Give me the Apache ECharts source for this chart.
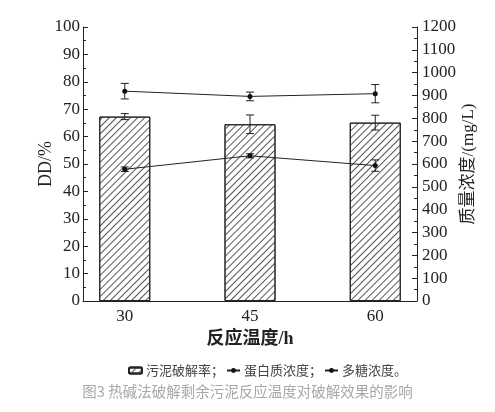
<!DOCTYPE html>
<html>
<head>
<meta charset="utf-8">
<script src="https://cdn.jsdelivr.net/npm/echarts@6/dist/echarts.min.js"></script>
<style>
html, body { margin: 0; padding: 0; background: #fff; }
#main { width: 495px; height: 412px; }
</style>
</head>
<body>
<div id="main"></div>
<script>
// 反应温度 (h)
var temps = [30, 45, 60];
// 污泥破解率 DD/%
var ddRate = [67.3, 64.5, 65.1];
var ddErr = [1.1, 3.4, 2.7];
// 蛋白质浓度 mg/L
var protein = [919, 896, 908];
var proteinErr = [34, 19, 40];
// 多糖浓度 mg/L
var sugar = [577, 636, 593];
var sugarErr = [10, 9, 25];

var leftTicks = { min: 0, max: 100, interval: 10 };
var rightTicks = { min: 0, max: 1200, interval: 100 };

var serif = "'Liberation Serif', 'Noto Sans CJK SC', serif";
var cjk = "'Noto Sans CJK SC', sans-serif";

function pairs(xs, ys) {
    return xs.map(function (x, i) { return [x, ys[i]]; });
}
function errData(xs, ys, es) {
    return xs.map(function (x, i) { return [x, ys[i] - es[i], ys[i] + es[i]]; });
}
function renderErr(params, api) {
    var lo = api.coord([api.value(0), api.value(1)]);
    var hi = api.coord([api.value(0), api.value(2)]);
    var w = 4;
    var st = { stroke: '#222', lineWidth: 1 };
    return {
        type: 'group',
        children: [
            { type: 'line', shape: { x1: lo[0], y1: lo[1], x2: hi[0], y2: hi[1] }, style: st },
            { type: 'line', shape: { x1: lo[0] - w, y1: lo[1], x2: lo[0] + w, y2: lo[1] }, style: st },
            { type: 'line', shape: { x1: hi[0] - w, y1: hi[1], x2: hi[0] + w, y2: hi[1] }, style: st }
        ]
    };
}

var chart = echarts.init(document.getElementById('main'));

chart.setOption({
    animation: false,
    grid: { left: 83, right: 78, top: 27, bottom: 111 },
    legend: {
        top: 359,
        left: 123,
        itemWidth: 13,
        itemHeight: 6,
        itemGap: 2,
        data: ['污泥破解率', '蛋白质浓度', '多糖浓度'],
        formatter: function (name) {
            return name + (name === '多糖浓度' ? '。' : '；');
        },
        textStyle: { fontFamily: cjk, fontSize: 13, color: '#444', padding: [0, 0, 0, -1] }
    },
    graphic: [{
        type: 'text',
        left: 'center',
        top: 384,
        style: {
            text: '图3 热碱法破解剩余污泥反应温度对破解效果的影响',
            fontFamily: cjk,
            fontSize: 14.5,
            fill: '#a8a8a8'
        }
    }],
    xAxis: {
        type: 'value',
        min: 25,
        max: 65,
        interval: 5,
        name: '反应温度/h',
        nameLocation: 'middle',
        nameGap: 26,
        nameTextStyle: { fontFamily: serif, fontSize: 18, fontWeight: 'bold', color: '#222' },
        axisLine: { lineStyle: { color: '#222', width: 1 } },
        axisTick: { show: false },
        splitLine: { show: false },
        axisLabel: {
            margin: 7,
            fontFamily: serif,
            fontSize: 17,
            color: '#222',
            formatter: function (v) { return temps.indexOf(v) >= 0 ? String(v) : ''; }
        }
    },
    yAxis: [
        {
            type: 'value',
            min: leftTicks.min,
            max: leftTicks.max,
            interval: leftTicks.interval,
            name: 'DD/%',
            nameLocation: 'middle',
            nameGap: 28,
            nameMoveOverlap: false,
            nameTextStyle: { fontFamily: serif, fontSize: 18, color: '#222' },
            axisLine: { show: true, lineStyle: { color: '#222', width: 1 } },
            axisTick: { show: true, inside: true, length: 5, lineStyle: { color: '#222' } },
            minorTick: { show: true, splitNumber: 2, length: 3, lineStyle: { color: '#222' } },
            splitLine: { show: false },
            axisLabel: { margin: 3, fontFamily: serif, fontSize: 17, color: '#222' }
        },
        {
            type: 'value',
            position: 'right',
            min: rightTicks.min,
            max: rightTicks.max,
            interval: rightTicks.interval,
            name: '质量浓度/(mg/L)',
            nameLocation: 'middle',
            nameGap: 43,
            nameMoveOverlap: false,
            nameRotate: 90,
            nameTextStyle: { fontFamily: serif, fontSize: 17, color: '#222' },
            axisLine: { show: true, lineStyle: { color: '#222', width: 1 } },
            axisTick: { show: true, inside: true, length: 5, lineStyle: { color: '#222' } },
            minorTick: { show: true, splitNumber: 2, length: 3, lineStyle: { color: '#222' } },
            splitLine: { show: false },
            axisLabel: {
                margin: 5,
                fontFamily: serif,
                fontSize: 17,
                color: '#222',
                formatter: function (v) { return String(v); }
            }
        }
    ],
    series: [
        {
            name: '污泥破解率',
            type: 'bar',
            barWidth: 51,
            data: pairs(temps, ddRate),
            itemStyle: {
                color: '#fff',
                borderColor: '#222',
                borderWidth: 1,
                decal: {
                    symbol: 'rect',
                    symbolSize: 1,
                    dashArrayX: [1, 0],
                    dashArrayY: [1, 4],
                    rotation: -Math.PI / 4,
                    color: '#555'
                }
            }
        },
        {
            type: 'custom',
            renderItem: renderErr,
            data: errData(temps, ddRate, ddErr),
            z: 5
        },
        {
            name: '蛋白质浓度',
            type: 'line',
            yAxisIndex: 1,
            data: pairs(temps, protein),
            symbol: 'circle',
            symbolSize: 5,
            lineStyle: { color: '#222', width: 1 },
            itemStyle: { color: '#111' },
            z: 6
        },
        {
            type: 'custom',
            yAxisIndex: 1,
            renderItem: renderErr,
            data: errData(temps, protein, proteinErr),
            z: 6
        },
        {
            name: '多糖浓度',
            type: 'line',
            yAxisIndex: 1,
            data: pairs(temps, sugar),
            symbol: 'circle',
            symbolSize: 5,
            lineStyle: { color: '#222', width: 1 },
            itemStyle: { color: '#111' },
            z: 6
        },
        {
            type: 'custom',
            yAxisIndex: 1,
            renderItem: renderErr,
            data: errData(temps, sugar, sugarErr),
            z: 6
        }
    ]
});
</script>
</body>
</html>
